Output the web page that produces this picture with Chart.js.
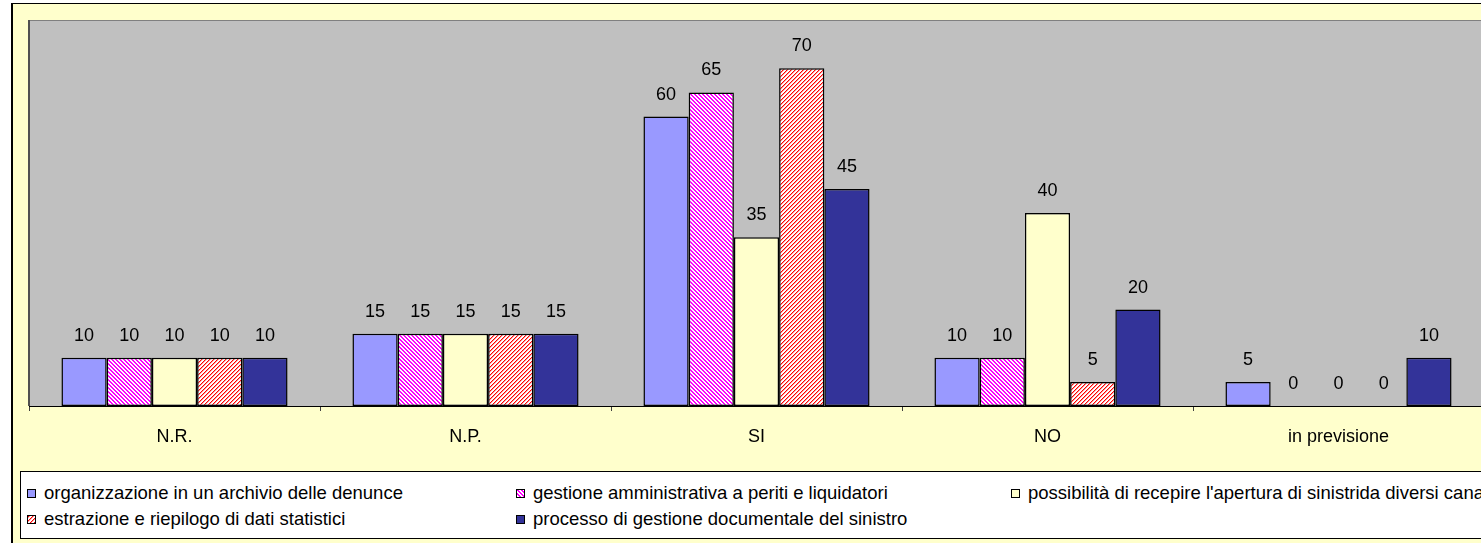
<!DOCTYPE html>
<html lang="it">
<head>
<meta charset="utf-8">
<title>Gestione sinistri</title>
<script src="https://cdn.jsdelivr.net/npm/chart.js@4.4.0/dist/chart.umd.min.js"></script>
<style>
  html, body { margin: 0; padding: 0; background: #fff; overflow: hidden; width: 1481px; height: 543px; }
  #frame { position: absolute; left: 11px; top: 3px; width: 1520px; height: 600px; background: #FFFFCC; border-left: 2px solid #000; border-top: 1px solid #000; }
  #chart { position: absolute; left: 0; top: 0; }
  #legend { position: absolute; left: 20px; top: 471px; width: 1520px; height: 66px; background: #fff; border: 1px solid #000;
            font-family: Arial, "Liberation Sans", sans-serif; font-size: 18.5px; color: #000; }
  .item { position: absolute; display: flex; align-items: center; white-space: nowrap; line-height: 20px; }
  .item canvas { width: 9px; height: 9px; border: 1px solid #000; box-sizing: border-box; margin-right: 8px; }
</style>
</head>
<body>
<div id="frame"></div>
<canvas id="chart" width="1520" height="460"></canvas>
<div id="legend"></div>
<script>
// Categorie (risposte) e serie
const categories = ['N.R.', 'N.P.', 'SI', 'NO', 'in previsione'];
const seriesNames = [
    'organizzazione in un archivio delle denunce',
    'gestione amministrativa a periti e liquidatori',
    "possibilità di recepire l'apertura di sinistrida diversi canal",
    'estrazione e riepilogo di dati statistici',
    'processo di gestione documentale del sinistro'
];
const archivio = [10, 15, 60, 10, 5];
const gestioneAmm = [10, 15, 65, 10, 0];
const recepire = [10, 15, 35, 40, 0];
const estrazione = [10, 15, 70, 5, 0];
const documentale = [10, 15, 45, 20, 10];

const FONT = 'Arial, "Liberation Sans", sans-serif';

// Tratteggio diagonale su tile 4x4
function stripeTile(bg, on) {
    const c = document.createElement('canvas');
    c.width = 4; c.height = 4;
    const g = c.getContext('2d');
    g.fillStyle = bg;
    g.fillRect(0, 0, 4, 4);
    for (let y = 0; y < 4; y++) {
        for (let x = 0; x < 4; x++) {
            const col = on(x, y);
            if (col) { g.fillStyle = col; g.fillRect(x, y, 1, 1); }
        }
    }
    return c;
}

const magentaTile = stripeTile('#FFFFFF', (x, y) => ((x - y + 8) % 4) < 2 ? '#FF00FF' : null);
const redTile = stripeTile('#FFFFFF', (x, y) => {
    const k = (x + y) % 4;
    return k === 0 ? '#FF0000' : (k === 1 ? '#FF9A9A' : null);
});

const ctx = document.getElementById('chart').getContext('2d');
const fills = [
    '#9999FF',
    ctx.createPattern(magentaTile, 'repeat'),
    '#FFFFCC',
    ctx.createPattern(redTile, 'repeat'),
    '#333399'
];
const seriesData = [archivio, gestioneAmm, recepire, estrazione, documentale];

// Sfondo grigio dell'area del grafico con bordo incassato
const plotArea = {
    id: 'plotArea',
    beforeDraw(chart) {
        const { ctx, chartArea: a } = chart;
        ctx.save();
        ctx.fillStyle = '#C0C0C0';
        ctx.fillRect(a.left, a.top, a.right - a.left, a.bottom - a.top);
        ctx.fillStyle = '#808080';
        ctx.fillRect(a.left, a.top, a.right - a.left, 1);
        ctx.fillStyle = '#505050';
        ctx.fillRect(a.left - 1, a.top, 2, a.bottom - a.top);
        ctx.restore();
    }
};

// Valori sopra le barre
const valueLabels = {
    id: 'valueLabels',
    afterDatasetsDraw(chart) {
        const c = chart.ctx;
        c.save();
        c.font = '18px ' + FONT;
        c.fillStyle = '#000';
        c.textAlign = 'center';
        c.textBaseline = 'alphabetic';
        chart.data.datasets.forEach((ds, i) => {
            chart.getDatasetMeta(i).data.forEach((bar, j) => {
                c.fillText(String(ds.data[j]), bar.x, bar.y - 17);
            });
        });
        c.restore();
    }
};

new Chart(ctx, {
    type: 'bar',
    data: {
        labels: categories,
        datasets: seriesNames.map((name, i) => ({
            label: name,
            data: seriesData[i],
            backgroundColor: fills[i],
            borderColor: '#000',
            borderWidth: c => (c.raw === 0 ? 0 : 1.5),
            borderSkipped: false,
            categoryPercentage: 0.777,
            barPercentage: 1
        }))
    },
    options: {
        responsive: false,
        animation: false,
        layout: { padding: { left: 29, top: 20, right: 36, bottom: 0 } },
        plugins: { legend: { display: false }, tooltip: { enabled: false } },
        scales: {
            x: {
                grid: { offset: true, drawOnChartArea: false, drawTicks: true, tickLength: 5, color: '#404040' },
                border: { color: '#000', width: 1 },
                ticks: { color: '#000', font: { family: FONT, size: 18 }, padding: 15, maxRotation: 0 },
                afterFit(s) { s.height = 54; }
            },
            y: { display: false, min: 0, max: 80 }
        }
    },
    plugins: [plotArea, valueLabels]
});

// Legenda su tre colonne
const legendPos = [[6, 11], [495, 11], [990, 11], [6, 37], [495, 37]];
const legend = document.getElementById('legend');
seriesNames.forEach((name, i) => {
    const item = document.createElement('div');
    item.className = 'item';
    item.style.left = legendPos[i][0] + 'px';
    item.style.top = legendPos[i][1] + 'px';
    const sw = document.createElement('canvas');
    sw.width = 7; sw.height = 7;
    const g = sw.getContext('2d');
    g.fillStyle = i === 1 ? g.createPattern(magentaTile, 'repeat') : i === 3 ? g.createPattern(redTile, 'repeat') : fills[i];
    g.fillRect(0, 0, 7, 7);
    item.appendChild(sw);
    item.appendChild(document.createTextNode(name));
    legend.appendChild(item);
});
</script>
</body>
</html>
